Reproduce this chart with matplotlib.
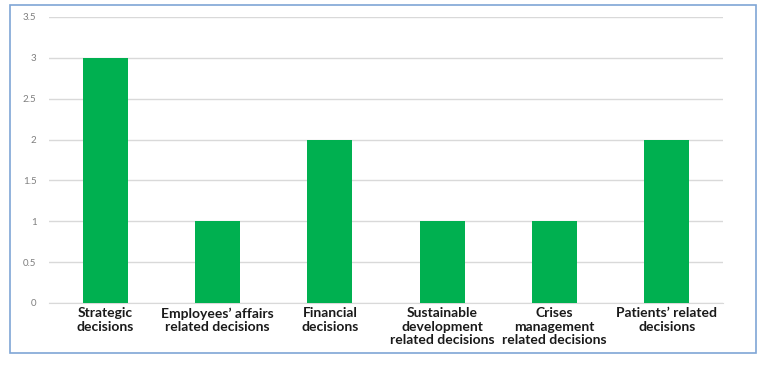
import matplotlib.pyplot as plt
from matplotlib.patches import Rectangle

# data
categories = ['Strategic\ndecisions',
              'Employees\u2019 affairs\nrelated decisions',
              'Financial\ndecisions',
              'Sustainable\ndevelopment\nrelated decisions',
              'Crises\nmanagement\nrelated decisions',
              'Patients\u2019 related\ndecisions']
values = [3, 1, 2, 1, 1, 2]
yticks = [0, 0.5, 1, 1.5, 2, 2.5, 3, 3.5]
ytick_labels = ['0', '0.5', '1', '1.5', '2', '2.5', '3', '3.5']

W, H = 768, 366
fig = plt.figure(figsize=(W / 100, H / 100), dpi=100)

# outer blue frame
fig.patches.append(Rectangle((10 / W, 1 - 353 / H), 746 / W, 348 / H,
                             transform=fig.transFigure, fill=False,
                             edgecolor='#7FA6D6', linewidth=1.2))

ax = fig.add_axes([49 / W, 1 - 303 / H, 674 / W, 286 / H])
x = range(len(categories))
ax.bar(x, values, width=0.4, color='#00B050', zorder=3)
ax.set_xlim(-0.5, len(categories) - 0.5)
ax.set_ylim(0, 3.5)
ax.set_yticks(yticks)
ax.set_yticklabels(ytick_labels, color='#7F7F7F', fontsize=7, family='Lato')
ax.set_xticks(list(x))
ax.set_xticklabels(categories, fontsize=10, fontweight='bold', family='Lato',
                   color='#1A1A1A', linespacing=1.15)
ax.tick_params(axis='both', length=0)
ax.tick_params(axis='y', pad=9)
ax.tick_params(axis='x', pad=3)
ax.grid(axis='y', color='#D9D9D9', linewidth=1, zorder=0)
for s in ['top', 'right', 'left']:
    ax.spines[s].set_visible(False)
ax.spines['bottom'].set_color('#D9D9D9')

fig.savefig('out.png', dpi=100)
